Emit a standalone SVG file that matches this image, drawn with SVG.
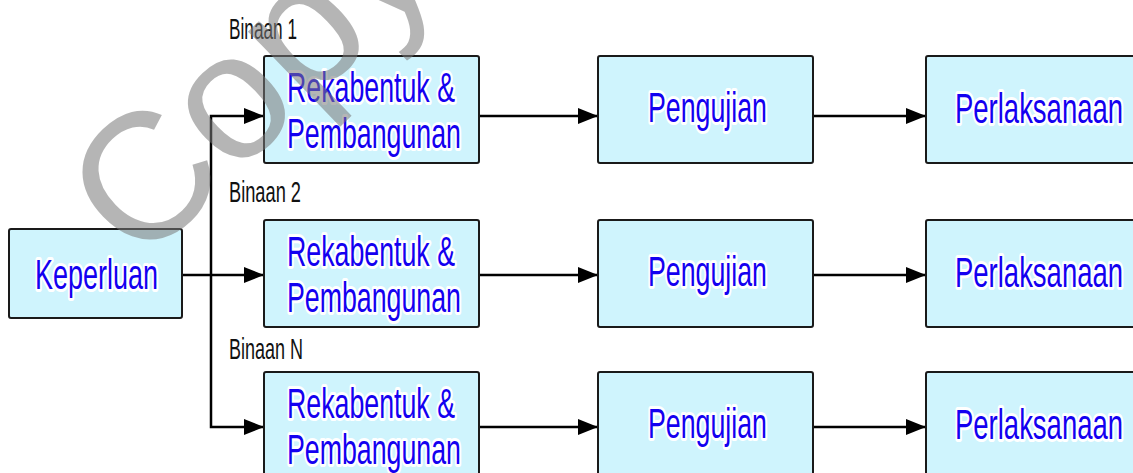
<svg xmlns="http://www.w3.org/2000/svg" width="1133" height="473" viewBox="0 0 1133 473">
<style>
.box{fill:#cff4fd;stroke:#1a1a1a;stroke-width:2}
.lbl{font-family:"Liberation Sans Narrow","Liberation Sans",Arial,sans-serif;font-size:42px;fill:#1400f0;stroke:#ffffff;stroke-width:6;stroke-linejoin:round;paint-order:stroke}
.bin{font-family:"Liberation Sans Narrow","Liberation Sans",Arial,sans-serif;font-size:30px;fill:#111111}
.con{fill:none;stroke:#000000;stroke-width:2.5;marker-end:url(#arr)}
.wm{font-family:"Liberation Sans",Arial,sans-serif;font-size:180px;fill:#7a7a7a;opacity:0.55}
</style>
<defs>
<marker id="arr" markerUnits="userSpaceOnUse" markerWidth="22" markerHeight="18" refX="20" refY="8" orient="auto">
<path d="M0,0 L20,8 L0,16 Z" fill="#000000"/>
</marker>
</defs>

<g id="connectors">
<path class="con" d="M182,275 H264"/>
<path class="con" d="M211,275 V116 H264"/>
<path class="con" d="M211,275 V427 H264"/>
<path class="con" d="M479,116 H598"/>
<path class="con" d="M813,116 H926"/>
<path class="con" d="M479,275 H598"/>
<path class="con" d="M813,275 H926"/>
<path class="con" d="M479,427 H598"/>
<path class="con" d="M813,427 H926"/>
</g>

<g id="keperluan">
<rect class="box" x="9" y="229" width="173" height="89" rx="2"/>
<text class="lbl" x="35" y="289" textLength="123" lengthAdjust="spacingAndGlyphs">Keperluan</text>
</g>

<g id="label-binaan1"><text class="bin" x="229" y="39" textLength="68" lengthAdjust="spacingAndGlyphs">Binaan 1</text></g>
<g id="label-binaan2"><text class="bin" x="229" y="202" textLength="72" lengthAdjust="spacingAndGlyphs">Binaan 2</text></g>
<g id="label-binaann"><text class="bin" x="229" y="359" textLength="74" lengthAdjust="spacingAndGlyphs">Binaan N</text></g>

<g id="reka1">
<rect class="box" x="264" y="56" width="215" height="107" rx="2"/>
<text class="lbl" x="287" y="102" textLength="168" lengthAdjust="spacingAndGlyphs">Rekabentuk &amp;</text>
<text class="lbl" x="287" y="148" textLength="174" lengthAdjust="spacingAndGlyphs">Pembangunan</text>
</g>
<g id="uji1">
<rect class="box" x="598" y="56" width="215" height="107" rx="2"/>
<text class="lbl" x="648" y="122" textLength="119" lengthAdjust="spacingAndGlyphs">Pengujian</text>
</g>
<g id="laksana1">
<rect class="box" x="926" y="56" width="212" height="107" rx="2"/>
<text class="lbl" x="955" y="123" textLength="168" lengthAdjust="spacingAndGlyphs">Perlaksanaan</text>
</g>

<g id="reka2">
<rect class="box" x="264" y="220" width="215" height="107" rx="2"/>
<text class="lbl" x="287" y="266" textLength="168" lengthAdjust="spacingAndGlyphs">Rekabentuk &amp;</text>
<text class="lbl" x="287" y="312" textLength="174" lengthAdjust="spacingAndGlyphs">Pembangunan</text>
</g>
<g id="uji2">
<rect class="box" x="598" y="220" width="215" height="107" rx="2"/>
<text class="lbl" x="648" y="286" textLength="119" lengthAdjust="spacingAndGlyphs">Pengujian</text>
</g>
<g id="laksana2">
<rect class="box" x="926" y="220" width="212" height="107" rx="2"/>
<text class="lbl" x="955" y="287" textLength="168" lengthAdjust="spacingAndGlyphs">Perlaksanaan</text>
</g>

<g id="reka3">
<rect class="box" x="264" y="372" width="215" height="107" rx="2"/>
<text class="lbl" x="287" y="418" textLength="168" lengthAdjust="spacingAndGlyphs">Rekabentuk &amp;</text>
<text class="lbl" x="287" y="464" textLength="174" lengthAdjust="spacingAndGlyphs">Pembangunan</text>
</g>
<g id="uji3">
<rect class="box" x="598" y="372" width="215" height="107" rx="2"/>
<text class="lbl" x="648" y="438" textLength="119" lengthAdjust="spacingAndGlyphs">Pengujian</text>
</g>
<g id="laksana3">
<rect class="box" x="926" y="372" width="212" height="107" rx="2"/>
<text class="lbl" x="955" y="439" textLength="168" lengthAdjust="spacingAndGlyphs">Perlaksanaan</text>
</g>

<g id="watermark">
<text class="wm" x="140" y="268" transform="rotate(-44 140 268)">Copy</text>
</g>
</svg>
